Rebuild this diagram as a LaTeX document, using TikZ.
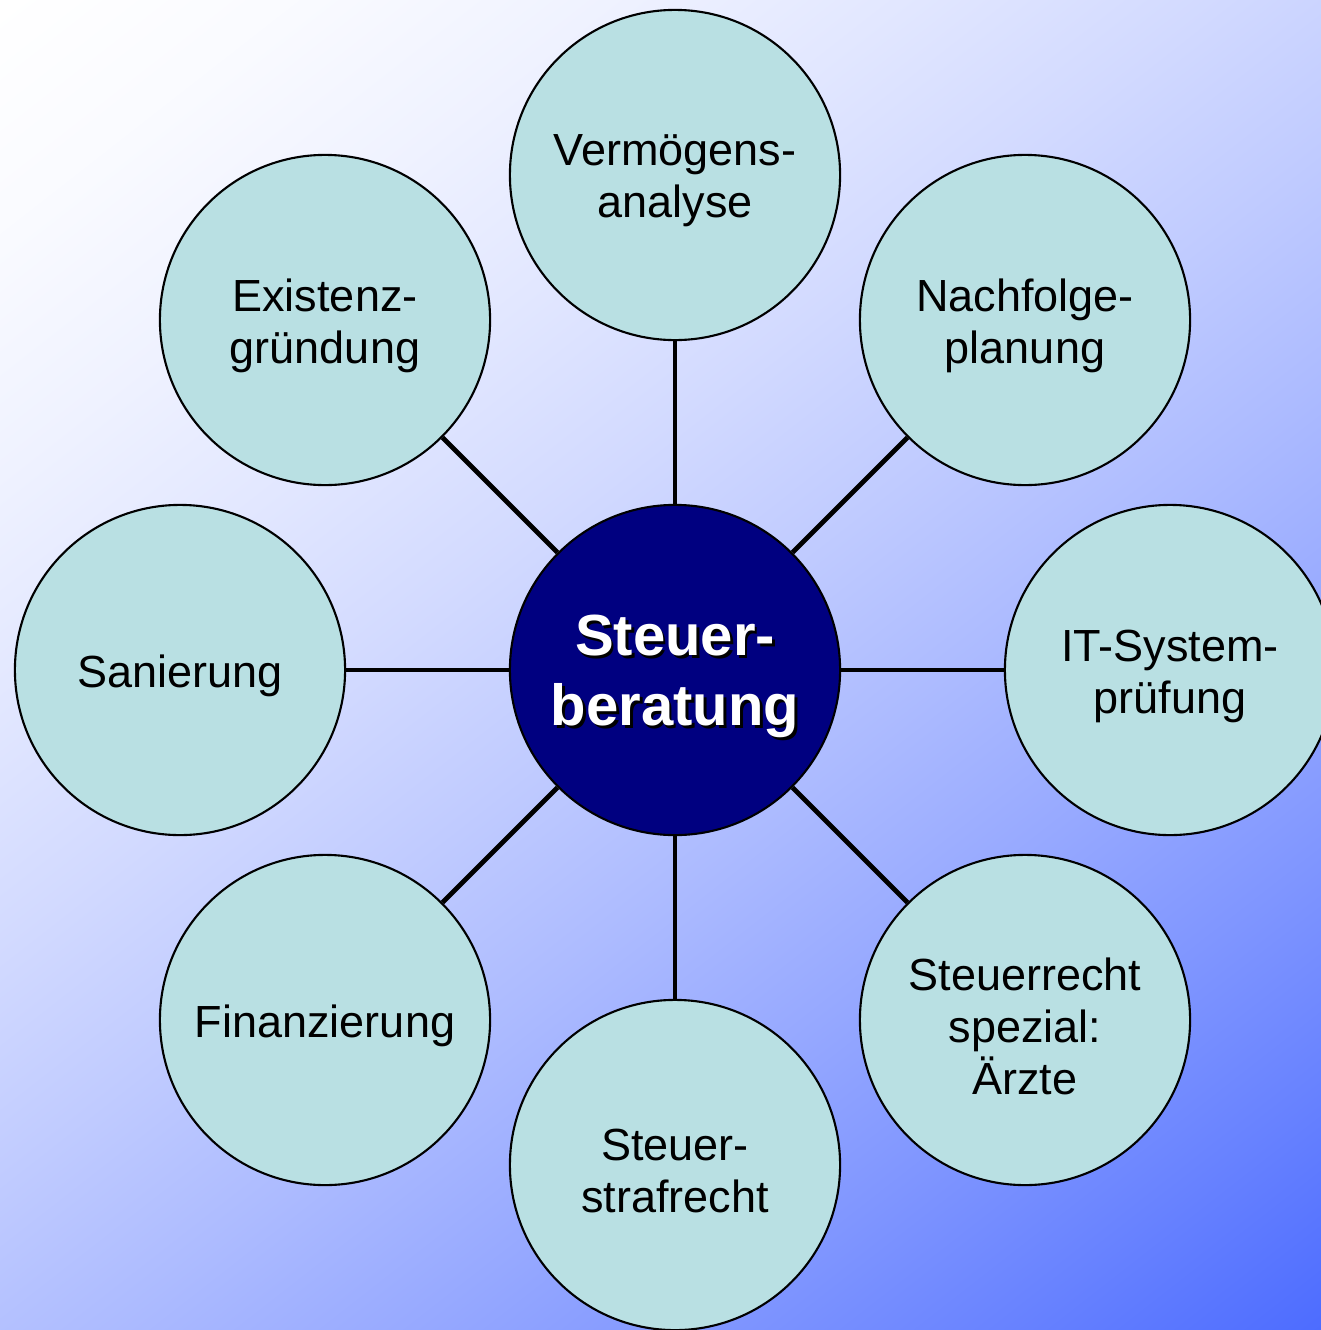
\documentclass[tikz,border=0pt]{standalone}
\usepackage{fontspec}
\setmainfont{Liberation Sans}
\usepackage{tikz}
\usetikzlibrary{positioning,shadings}
\definecolor{bubble}{RGB}{185,224,227}
\definecolor{hubblue}{RGB}{0,0,128}
\pgfdeclarehorizontalshading{bgfade}{100bp}{rgb(0bp)=(1,1,1); rgb(15bp)=(1,1,1);
  rgb(22bp)=(0.978,0.982,1); rgb(29bp)=(0.938,0.949,1); rgb(36bp)=(0.885,0.905,1);
  rgb(43bp)=(0.824,0.854,1); rgb(50bp)=(0.753,0.796,1); rgb(57bp)=(0.675,0.732,1);
  rgb(64bp)=(0.591,0.662,1); rgb(71bp)=(0.500,0.587,1); rgb(78bp)=(0.404,0.508,1);
  rgb(85bp)=(0.302,0.424,1); rgb(100bp)=(0.302,0.424,1)}

\begin{document}
\begin{tikzpicture}[x=0.01cm,y=-0.01cm,
  topic/.style={circle,draw=black,line width=0.6pt,fill=bubble,minimum size=3.3cm,inner sep=0pt},
  topiclabel/.style={inner sep=0pt,align=center,yshift=-0.06cm,font=\fontsize{12.8}{14.8}\selectfont},
  hub/.style={circle,draw=black,line width=0.6pt,fill=hubblue,minimum size=3.3cm,inner sep=0pt},
  hubtext/.style={inner sep=0pt,align=center,font=\bfseries\fontsize{16.5}{20}\selectfont},
  spoke/.style={line width=1.4pt,black}]
% background
\shade[shading=bgfade,shading angle=-52] (0,0) rectangle (1321,1330);
\useasboundingbox (0,0) rectangle (1321,1330);
% nodes
\node [hub] (hub) at (675,670) {};
\node [topic,label={[topiclabel]center:Vermögens-\\analyse}] (vermoegen) at (675,175) {};
\node [topic,label={[topiclabel]center:Nachfolge-\\planung}] (nachfolge) at (1025,320) {};
\node [topic,label={[topiclabel]center:IT-System-\\prüfung}] (itsystem) at (1170,670) {};
\node [topic,label={[topiclabel]center:Steuerrecht\\spezial:\\Ärzte}] (aerzte) at (1025,1020) {};
\node [topic,label={[topiclabel]center:Steuer-\\strafrecht}] (straf) at (675,1165) {};
\node [topic,label={[topiclabel]center:Finanzierung}] (finanz) at (325,1020) {};
\node [topic,label={[topiclabel]center:Sanierung}] (sanierung) at (180,670) {};
\node [topic,label={[topiclabel]center:Existenz-\\gründung}] (existenz) at (325,320) {};
% spokes
\draw [spoke] (hub) -- (vermoegen);
\draw [spoke] (hub) -- (nachfolge);
\draw [spoke] (hub) -- (itsystem);
\draw [spoke] (hub) -- (aerzte);
\draw [spoke] (hub) -- (straf);
\draw [spoke] (hub) -- (finanz);
\draw [spoke] (hub) -- (sanierung);
\draw [spoke] (hub) -- (existenz);
% centre label with shadow
\node [hubtext,black] (hubshadow) at ([xshift=0.8pt,yshift=-2.6pt]hub.center) {Steuer-\\beratung};
\node [hubtext,white] (hublabel) at ([yshift=-1.8pt]hub.center) {Steuer-\\beratung};
\end{tikzpicture}
\end{document}
